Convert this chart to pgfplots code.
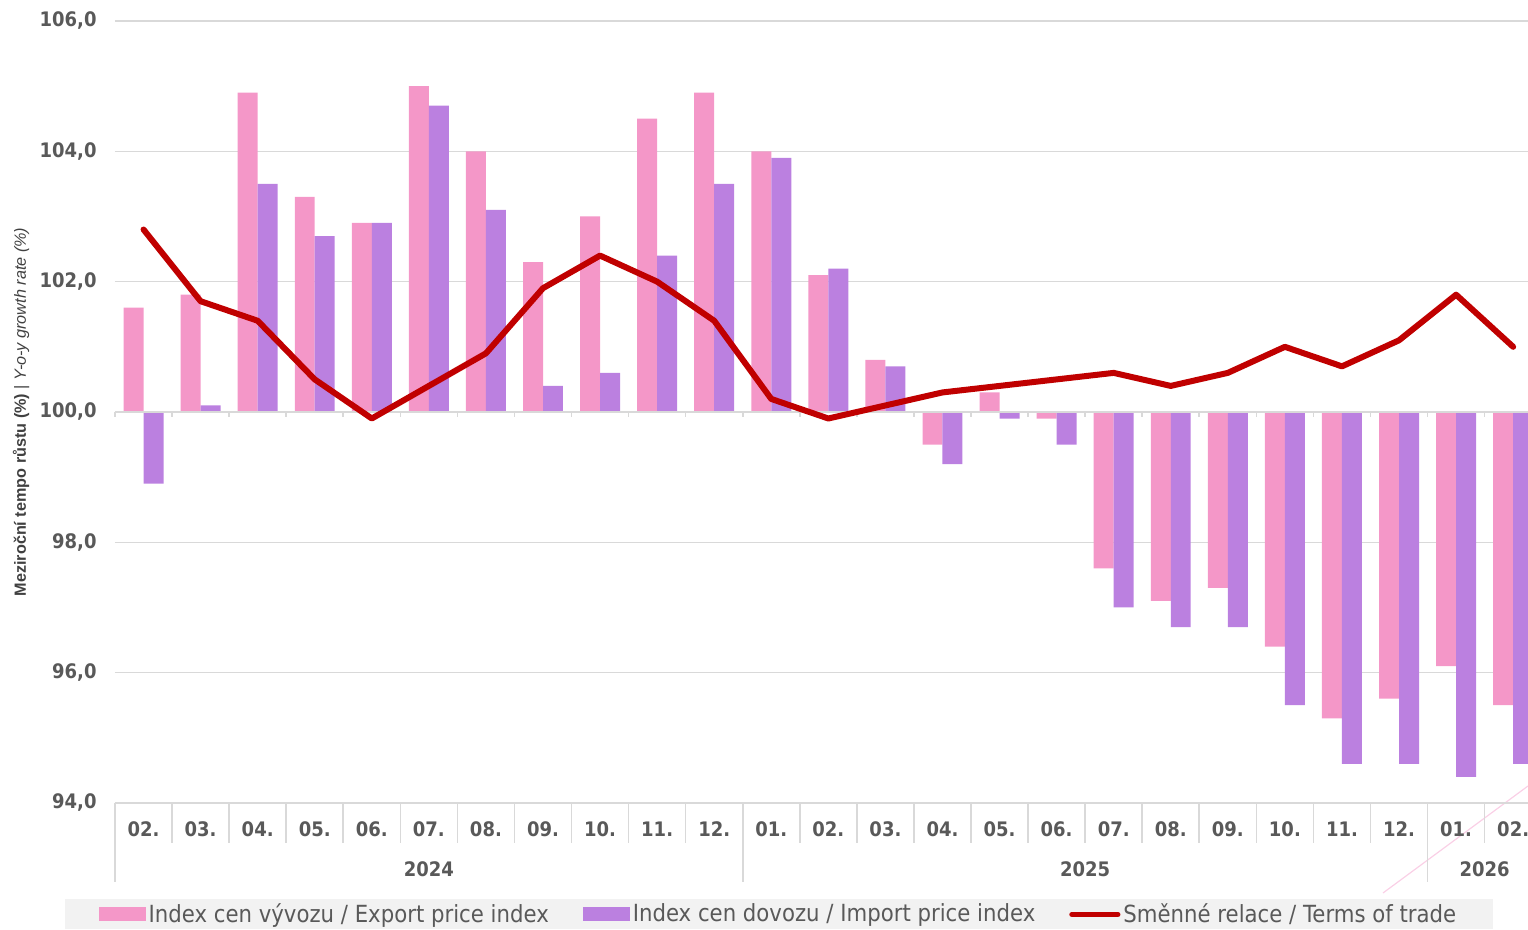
\documentclass[border=0pt]{standalone}
\usepackage{fontspec}
\setmainfont{DejaVu Sans}[FakeStretch=0.9]
\newfontfamily\arialfont{Liberation Sans}
\usepackage{pgfplots}
\usepackage{pgfplotstable}
\pgfplotsset{compat=1.18}
\definecolor{pinkbar}{HTML}{F497C8}
\definecolor{purplebar}{HTML}{BB80E0}
\definecolor{tot}{HTML}{C00000}
\definecolor{txt}{HTML}{595959}
\definecolor{gridc}{HTML}{D9D9D9}
\definecolor{legbg}{HTML}{F2F2F2}
\definecolor{ylab}{HTML}{404040}

\pgfplotstableread{
x exp imp tot
0 101.6 98.9 102.8
1 101.8 100.1 101.7
2 104.9 103.5 101.4
3 103.3 102.7 100.5
4 102.9 102.9 99.9
5 105.0 104.7 100.4
6 104.0 103.1 100.9
7 102.3 100.4 101.9
8 103.0 100.6 102.4
9 104.5 102.4 102.0
10 104.9 103.5 101.4
11 104.0 103.9 100.2
12 102.1 102.2 99.9
13 100.8 100.7 100.1
14 99.5 99.2 100.3
15 100.3 99.9 100.4
16 99.9 99.5 100.5
17 97.6 97.0 100.6
18 97.1 96.7 100.4
19 97.3 96.7 100.6
20 96.4 95.5 101.0
21 95.3 94.6 100.7
22 95.6 94.6 101.1
23 96.1 94.4 101.8
24 95.5 94.6 101.0
}\data

\begin{document}
\begin{tikzpicture}
\path[use as bounding box] (-57.5pt,-63.5pt) rectangle (706.5pt,401.5pt);
\draw[pinkbar!45, line width=0.6pt] (634pt,-45pt) -- (706.5pt,8.5pt);
\begin{axis}[
  at={(0pt,0pt)}, anchor=south west,
  scale only axis, width=706.5pt, height=391pt,
  xmin=-0.5, xmax=24.26, ymin=94, ymax=106,
  y coord trafo/.code={\pgfmathparse{#1-100}},
  y coord inv trafo/.code={\pgfmathparse{#1+100}},
  clip mode=individual,
  axis line style={draw=none},
  ytick={94,96,98,100,102,104,106},
  yticklabels={{94,0},{96,0},{98,0},{100,0},{102,0},{104,0},{106,0}},
  xtick={0,...,24},
  xticklabels={02.,03.,04.,05.,06.,07.,08.,09.,10.,11.,12.,01.,02.,03.,04.,05.,06.,07.,08.,09.,10.,11.,12.,01.,02.},
  major tick length=0pt,
  tick style={draw=none},
  ymajorgrids,
  grid style={gridc, line width=0.8pt},
  yticklabel style={font=\bfseries\fontsize{10}{12}\selectfont, text=txt, anchor=east, xshift=-5.7pt},
  xticklabel style={font=\bfseries\fontsize{10}{12}\selectfont, text=txt, anchor=base, yshift=-17pt},
  legend style={at={(0.4699,-0.1425)}, anchor=center, fill=legbg, draw=none,
    font=\fontsize{11.8}{13}\selectfont, text=txt,
    inner xsep=17pt, inner ysep=0.5pt,
    nodes={inner xsep=1.5pt, inner ysep=1.5pt},
    legend columns=3,
    /tikz/every even column/.append style={column sep=15.5pt}},
]
\addplot[ybar, bar width=0.35, bar shift=-0.175, fill=pinkbar, draw=none,
  legend image code/.code={\fill[pinkbar] (0pt,-3.5pt) rectangle (23.5pt,3.5pt);}]
  table[x=x,y=exp]{\data};
\addlegendentry{Index cen vývozu / Export price index}
\addplot[ybar, bar width=0.35, bar shift=0.175, fill=purplebar, draw=none,
  legend image code/.code={\fill[purplebar] (0pt,-3.5pt) rectangle (23.5pt,3.5pt);}]
  table[x=x,y=imp]{\data};
\addlegendentry{Index cen dovozu / Import price index}
\draw[gridc, line width=0.8pt] (axis cs:-0.5,100) -- (axis cs:24.26,100);
\pgfplotsinvokeforeach{-0.5,0.5,1.5,2.5,3.5,4.5,5.5,6.5,7.5,8.5,9.5,10.5,11.5,12.5,13.5,14.5,15.5,16.5,17.5,18.5,19.5,20.5,21.5,22.5,23.5}{
  \draw[gridc, line width=0.8pt] (axis cs:#1,100) -- ([yshift=-2.5pt]axis cs:#1,100);
  \draw[gridc, line width=0.8pt] (axis cs:#1,94) -- ([yshift=-20pt]axis cs:#1,94);
}
\pgfplotsinvokeforeach{-0.5,10.5,22.5}{
  \draw[gridc, line width=0.8pt] (axis cs:#1,94) -- ([yshift=-39.5pt]axis cs:#1,94);
}
\addplot[tot, line width=3pt, line cap=round, line join=round,
  legend image code/.code={\draw[tot, line width=2.6pt, line cap=round] (0pt,0pt) -- (23pt,0pt);}]
  table[x=x,y=tot]{\data};
\addlegendentry{Směnné relace / Terms of trade}
\node[font=\bfseries\fontsize{10}{12}\selectfont, text=txt] at (axis cs:5,94) [yshift=-33pt] {2024};
\node[font=\bfseries\fontsize{10}{12}\selectfont, text=txt] at (axis cs:16.5,94) [yshift=-33pt] {2025};
\node[font=\bfseries\fontsize{10}{12}\selectfont, text=txt] at (axis cs:23.5,94) [yshift=-33pt] {2026};
\end{axis}
\node[rotate=90, text=ylab, font=\arialfont\fontsize{8.1}{10}\selectfont] at (-47pt,195.5pt)
  {\bfseries Meziroční tempo růstu (\%)\mdseries{} | \itshape Y-o-y growth rate (\%)};
\end{tikzpicture}
\end{document}
